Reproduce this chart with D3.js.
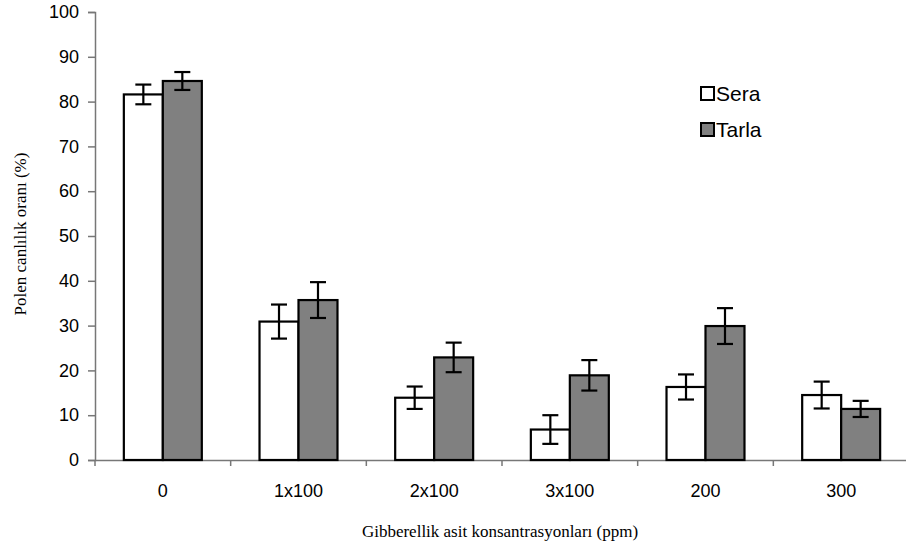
<!DOCTYPE html>
<html>
<head>
<meta charset="utf-8">
<script src="https://cdn.jsdelivr.net/npm/d3@7"></script>
<style>
  body { margin: 0; background: #fff; }
  .tick text { font-family: "Liberation Sans", Arial, sans-serif; font-size: 18px; fill: #000; }
  .title { font-family: "Liberation Serif", "Times New Roman", serif; font-size: 17px; fill: #000; }
</style>
</head>
<body>
<svg width="906" height="552"></svg>
<script>
const categories = ["0", "1x100", "2x100", "3x100", "200", "300"];
const series = ["Sera", "Tarla"];
const seraValues = [81.6, 30.9, 13.9, 6.8, 16.3, 14.5];
const seraErrors = [2.2, 3.8, 2.5, 3.2, 2.8, 3.0];
const tarlaValues = [84.6, 35.7, 22.9, 18.9, 29.9, 11.4];
const tarlaErrors = [2.0, 4.0, 3.3, 3.4, 4.0, 1.8];
const yTicks = [0, 10, 20, 30, 40, 50, 60, 70, 80, 90, 100];

const svg = d3.select("svg");

const x0 = d3.scaleBand()
  .domain(categories)
  .range([95, 909]);

const x1 = d3.scaleBand()
  .domain(series)
  .range([0, x0.bandwidth()])
  .paddingOuter(0.74);

const y = d3.scaleLinear()
  .domain([0, 100])
  .range([460, 12]);

const fills = { Sera: "#ffffff", Tarla: "#808080" };

const rows = categories.map((c, i) => ({
  cat: c,
  items: [
    { key: "Sera", value: seraValues[i], err: seraErrors[i] },
    { key: "Tarla", value: tarlaValues[i], err: tarlaErrors[i] },
  ],
}));

// axes
const yAxis = svg.append("g")
  .attr("transform", "translate(95,0)")
  .call(d3.axisLeft(y).tickValues(yTicks).tickSize(7).tickPadding(9));

const xAxis = svg.append("g")
  .attr("transform", "translate(0,460)")
  .call(d3.axisBottom(x0).tickSize(0).tickPadding(24));

// x ticks sit on the category boundaries
xAxis.selectAll(".boundary")
  .data(categories)
  .enter().append("line")
  .attr("x1", d => x0(d))
  .attr("x2", d => x0(d))
  .attr("y1", 0)
  .attr("y2", 6)
  .attr("stroke", "#777")
  .attr("stroke-width", 1.5);

[yAxis, xAxis].forEach(a => {
  a.select(".domain").attr("stroke", "#777").attr("stroke-width", 1.5);
  a.selectAll(".tick line").attr("stroke", "#777").attr("stroke-width", 1.5);
});

// bars
const group = svg.selectAll(".group")
  .data(rows)
  .enter().append("g")
  .attr("class", "group")
  .attr("transform", d => `translate(${x0(d.cat)},0)`);

group.selectAll("rect")
  .data(d => d.items)
  .enter().append("rect")
  .attr("x", d => x1(d.key))
  .attr("width", x1.bandwidth())
  .attr("y", d => y(d.value))
  .attr("height", d => y(0) - y(d.value))
  .attr("fill", d => fills[d.key])
  .attr("stroke", "#000")
  .attr("stroke-width", 2.2);

// error bars
const err = group.selectAll(".err")
  .data(d => d.items)
  .enter().append("g")
  .attr("class", "err")
  .attr("stroke", "#000")
  .attr("stroke-width", 2.2);

const cx = d => x1(d.key) + x1.bandwidth() / 2;
err.append("line")
  .attr("x1", cx).attr("x2", cx)
  .attr("y1", d => y(d.value + d.err))
  .attr("y2", d => y(d.value - d.err));
err.append("line")
  .attr("x1", d => cx(d) - 8).attr("x2", d => cx(d) + 8)
  .attr("y1", d => y(d.value + d.err))
  .attr("y2", d => y(d.value + d.err));
err.append("line")
  .attr("x1", d => cx(d) - 8).attr("x2", d => cx(d) + 8)
  .attr("y1", d => y(d.value - d.err))
  .attr("y2", d => y(d.value - d.err));

// titles
svg.append("text")
  .attr("class", "title")
  .attr("x", 500)
  .attr("y", 537)
  .attr("text-anchor", "middle")
  .text("Gibberellik asit konsantrasyonları (ppm)");

svg.append("text")
  .attr("class", "title")
  .attr("transform", "translate(26,234) rotate(-90)")
  .attr("text-anchor", "middle")
  .text("Polen canlılık oranı (%)");

// legend
const legend = svg.selectAll(".legend")
  .data(series)
  .enter().append("g")
  .attr("class", "legend")
  .attr("transform", (d, i) => `translate(701,${87 + i * 36})`);

legend.append("rect")
  .attr("width", 13)
  .attr("height", 13)
  .attr("fill", d => fills[d])
  .attr("stroke", "#000")
  .attr("stroke-width", 2);

legend.append("text")
  .attr("x", 15)
  .attr("y", 14)
  .style("font-family", "'Liberation Sans', Arial, sans-serif")
  .style("font-size", "21px")
  .text(d => d);
</script>
</body>
</html>
